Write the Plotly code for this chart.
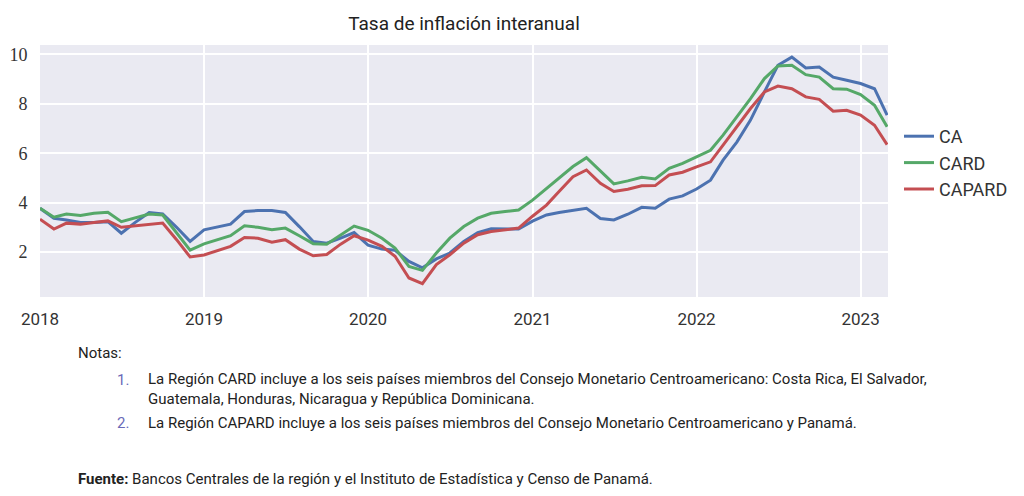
import pandas as pd
import plotly.graph_objects as go

# ---------------- data ----------------
start_month = "2018-01-01"
n_months = 63
dates = pd.date_range(start_month, periods=n_months, freq="MS")

ca = [3.77, 3.37, 3.30, 3.20, 3.20, 3.23, 2.76, 3.20, 3.60, 3.54, 3.00, 2.43,
      2.90, 3.03, 3.13, 3.64, 3.68, 3.68, 3.60, 3.03, 2.43, 2.36, 2.56, 2.79,
      2.28, 2.12, 2.07, 1.62, 1.36, 1.72, 1.96, 2.43, 2.79, 2.94, 2.93, 2.93,
      3.25, 3.50, 3.60, 3.68, 3.77, 3.36, 3.30, 3.53, 3.81, 3.77, 4.14, 4.27,
      4.55, 4.91, 5.72, 6.46, 7.34, 8.48, 9.56, 9.89, 9.45, 9.49, 9.08, 8.95,
      8.82, 8.61, 7.54]
card = [3.77, 3.41, 3.54, 3.48, 3.57, 3.61, 3.23, 3.37, 3.54, 3.50, 2.80, 2.08,
        2.33, 2.50, 2.66, 3.06, 3.00, 2.90, 2.97, 2.66, 2.34, 2.32, 2.70, 3.05,
        2.88, 2.56, 2.16, 1.42, 1.26, 1.96, 2.56, 3.03, 3.37, 3.57, 3.64, 3.70,
        4.10, 4.58, 4.99, 5.46, 5.82, 5.26, 4.76, 4.88, 5.03, 4.96, 5.39, 5.59,
        5.85, 6.12, 6.73, 7.47, 8.21, 9.02, 9.53, 9.56, 9.18, 9.08, 8.61, 8.59,
        8.37, 7.94, 7.07]
capard = [3.33, 2.93, 3.17, 3.13, 3.20, 3.26, 3.00, 3.06, 3.13, 3.17, 2.50, 1.80,
          1.88, 2.07, 2.23, 2.59, 2.56, 2.40, 2.50, 2.12, 1.85, 1.90, 2.32, 2.66,
          2.48, 2.23, 1.83, 0.95, 0.72, 1.49, 1.89, 2.36, 2.70, 2.83, 2.90, 2.97,
          3.45, 3.90, 4.45, 5.05, 5.32, 4.78, 4.45, 4.54, 4.68, 4.69, 5.12, 5.23,
          5.45, 5.65, 6.33, 7.07, 7.81, 8.48, 8.72, 8.61, 8.28, 8.18, 7.70, 7.74,
          7.54, 7.13, 6.35]

series_names = ["CA", "CARD", "CAPARD"]
series_values = [ca, card, capard]
series_colors = ["#4C72B0", "#55A868", "#C44E52"]

x_tick_vals = ["2018-01-01", "2019-01-01", "2020-01-01", "2021-01-01", "2022-01-01", "2023-01-01"]
x_tick_text = ["2018", "2019", "2020", "2021", "2022", "2023"]
y_tick_vals = [2, 4, 6, 8, 10]

title_text = "Tasa de inflación interanual"
notes_title = "Notas:"
note1_lines = ["La Región CARD incluye a los seis países miembros del Consejo Monetario Centroamericano: Costa Rica, El Salvador,",
               "Guatemala, Honduras, Nicaragua y República Dominicana."]
note2 = "La Región CAPARD incluye a los seis países miembros del Consejo Monetario Centroamericano y Panamá."
source_label = "Fuente:"
source_text = "Bancos Centrales de la región y el Instituto de Estadística y Censo de Panamá."

# ---------------- figure ----------------
SANS = "Roboto, Liberation Sans, sans-serif"
SERIF = "Liberation Serif, DejaVu Serif, serif"

W, H = 1016, 488          # page body has an 8px margin
OFF = 8
# plot area in page pixels
PL, PR, PT, PB = 40, 888, 45, 297
L, T = PL - OFF, PT - OFF
R, B = W - (PR - OFF), H - (PB - OFF)
plot_w = PR - PL
plot_h = PB - PT


def px(xp):
    return (xp - PL) / plot_w


def py(yp):
    return (PB - yp) / plot_h


fig = go.Figure()
for name, vals, col in zip(series_names, series_values, series_colors):
    fig.add_trace(go.Scatter(x=dates, y=vals, name=name, mode="lines",
                             line=dict(color=col, width=3)))

fig.update_layout(
    width=W, height=H,
    margin=dict(l=L, r=R, t=T, b=B, autoexpand=False),
    paper_bgcolor="white",
    plot_bgcolor="#EAEAF2",
    title=dict(text=title_text, x=(464 - OFF) / W, xanchor="center",
               y=1 - (23 - OFF) / H, yanchor="middle",
               font=dict(family=SANS, size=19, color="#222222")),
    showlegend=True,
    legend=dict(x=px(899), xanchor="left", y=py(118), yanchor="top",
                font=dict(family=SANS, size=18, color="#333333"),
                bgcolor="rgba(0,0,0,0)", tracegroupgap=0),
    hovermode=False,
)

fig.update_xaxes(
    automargin=False,
    range=["2018-01-01", "2023-03-03"],
    tickvals=x_tick_vals, ticktext=x_tick_text,
    showgrid=True, gridcolor="white", gridwidth=2,
    zeroline=False, showline=False,
    ticks="outside", ticklen=7, tickcolor="rgba(0,0,0,0)",
    tickfont=dict(family=SANS, size=17, color="#333333"),
)
fig.update_yaxes(
    automargin=False,
    range=[0.18, 10.38],
    tickvals=y_tick_vals,
    showgrid=True, gridcolor="white", gridwidth=2,
    zeroline=False, showline=False,
    ticks="outside", ticklen=8, tickcolor="rgba(0,0,0,0)",
    tickfont=dict(family=SERIF, size=18, color="#333333"),
)

note_font = dict(family=SANS, size=15, color="#222222")
num_font = dict(family=SANS, size=15, color="#6A6AB8")
ann = [
    dict(text=notes_title, x=px(76), y=py(353), font=note_font),
    dict(text="1.", x=px(115), y=py(380), font=num_font),
    dict(text="<br>".join(note1_lines), x=px(146), y=py(389), font=note_font),
    dict(text="2.", x=px(115), y=py(423), font=num_font),
    dict(text=note2, x=px(146), y=py(423), font=note_font),
    dict(text="<b>" + source_label + "</b> " + source_text, x=px(76), y=py(479), font=note_font),
]
for a in ann:
    fig.add_annotation(xref="paper", yref="paper", xanchor="left", yanchor="middle",
                       align="left", showarrow=False, **a)

fig.write_html("out.html")
